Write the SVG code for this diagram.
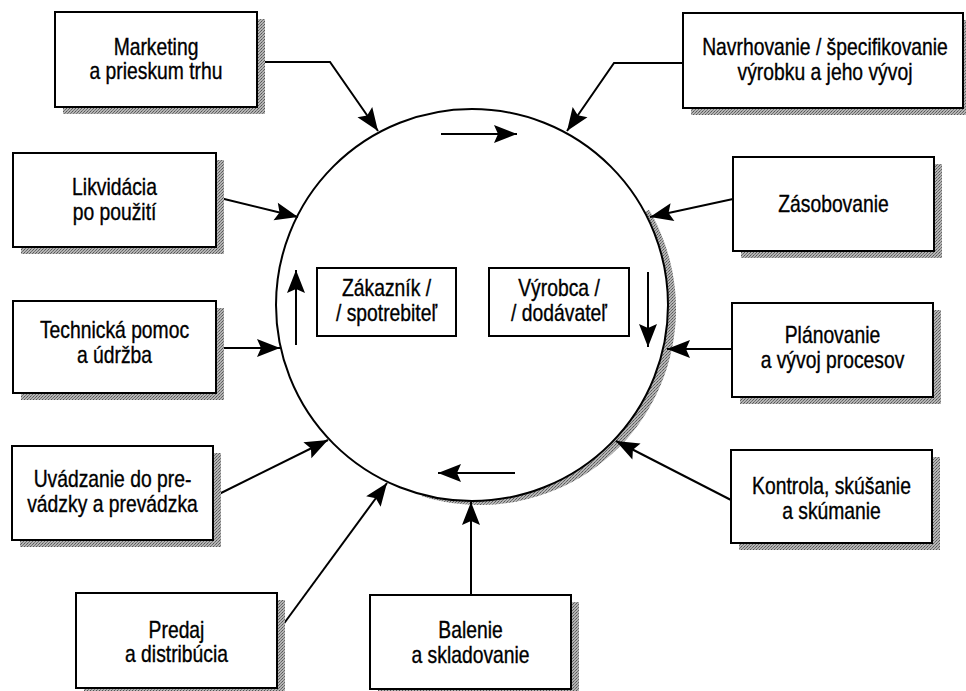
<svg xmlns="http://www.w3.org/2000/svg" width="966" height="691" viewBox="0 0 966 691">
<defs>
<pattern id="dither" width="3" height="3" patternUnits="userSpaceOnUse">
<rect width="3" height="3" fill="#b4b4b4"/>
<rect x="0" y="0" width="1" height="1" fill="#555"/>
<rect x="2" y="1" width="1" height="1" fill="#666"/>
<rect x="1" y="2" width="1" height="1" fill="#777"/>
</pattern>
<marker id="ah" markerUnits="userSpaceOnUse" markerWidth="26" markerHeight="20" refX="23" refY="9" orient="auto" overflow="visible">
<path d="M0,0 L23,9 L0,18 L4,9 Z" fill="#000"/>
</marker>
<clipPath id="shclip">
<polygon points="472,305 736,163 772,305 684,517 472,605 396,595"/>
</clipPath>
</defs>
<style>
.box{fill:#fff;stroke:#000;stroke-width:2}
.sh{fill:url(#dither)}
.t{font-family:"Liberation Sans",Arial,Helvetica,sans-serif;font-size:23px;fill:#000;stroke:#000;stroke-width:0.35;text-anchor:middle}
.c{fill:none;stroke:#000;stroke-width:2;marker-end:url(#ah)}
</style>
<rect width="966" height="691" fill="#fff"/>

<g id="circle">
<circle cx="480" cy="309" r="196" class="sh" clip-path="url(#shclip)"/>
<circle cx="472" cy="305" r="196" fill="#fff" stroke="#000" stroke-width="2"/>
</g>

<g id="cycle-arrows">
<line class="c" x1="441" y1="134" x2="517" y2="134"/>
<line class="c" x1="648" y1="272" x2="648" y2="347"/>
<line class="c" x1="515" y1="473" x2="438" y2="473"/>
<line class="c" x1="296" y1="345" x2="296" y2="270"/>
</g>

<g id="connectors">
<polyline class="c" points="257,62 330,62 378,131"/>
<polyline class="c" points="683,63 614,63 567,131"/>
<line class="c" x1="216" y1="197" x2="298" y2="217"/>
<line class="c" x1="216" y1="348" x2="280" y2="348"/>
<line class="c" x1="213" y1="497" x2="328" y2="440"/>
<line class="c" x1="277" y1="633" x2="387" y2="483"/>
<line class="c" x1="471" y1="595" x2="471" y2="502"/>
<line class="c" x1="731" y1="500" x2="616" y2="441"/>
<line class="c" x1="732" y1="349" x2="667" y2="349"/>
<line class="c" x1="733" y1="199" x2="650" y2="217"/>
</g>

<g id="zakaznik">
<rect class="box" x="317" y="268" width="139" height="68"/>
<text class="t" transform="translate(386.5 296) scale(0.84 1)">Zákazník /</text>
<text class="t" transform="translate(386.5 321) scale(0.84 1)">/ spotrebiteľ</text>
</g>

<g id="vyrobca">
<rect class="box" x="489" y="268" width="140" height="68"/>
<text class="t" transform="translate(559 296) scale(0.84 1)">Výrobca /</text>
<text class="t" transform="translate(559 321) scale(0.84 1)">/ dodávateľ</text>
</g>

<g id="marketing">
<rect class="sh" x="63" y="19" width="202" height="95"/>
<rect class="box" x="55" y="12" width="202" height="95"/>
<text class="t" transform="translate(156 55) scale(0.84 1)">Marketing</text>
<text class="t" transform="translate(156 79) scale(0.84 1)">a prieskum trhu</text>
</g>

<g id="navrhovanie">
<rect class="sh" x="691" y="20" width="280" height="95"/>
<rect class="box" x="683" y="13" width="280" height="95"/>
<text class="t" transform="translate(825 55) scale(0.84 1)">Navrhovanie / špecifikovanie</text>
<text class="t" transform="translate(825 80) scale(0.84 1)">výrobku a jeho vývoj</text>
</g>

<g id="likvidacia">
<rect class="sh" x="21" y="160" width="203" height="94"/>
<rect class="box" x="13" y="153" width="203" height="94"/>
<text class="t" transform="translate(114.5 195) scale(0.84 1)">Likvidácia</text>
<text class="t" transform="translate(114.5 220) scale(0.84 1)">po použití</text>
</g>

<g id="technicka">
<rect class="sh" x="21" y="308" width="203" height="92"/>
<rect class="box" x="13" y="301" width="203" height="92"/>
<text class="t" transform="translate(114.5 338) scale(0.84 1)">Technická pomoc</text>
<text class="t" transform="translate(114.5 363) scale(0.84 1)">a údržba</text>
</g>

<g id="uvadzanie">
<rect class="sh" x="20" y="453" width="201" height="94"/>
<rect class="box" x="12" y="446" width="201" height="94"/>
<text class="t" transform="translate(112.5 487) scale(0.84 1)">Uvádzanie do pre-</text>
<text class="t" transform="translate(112.5 512) scale(0.84 1)">vádzky a prevádzka</text>
</g>

<g id="predaj">
<rect class="sh" x="84" y="600" width="201" height="95"/>
<rect class="box" x="76" y="593" width="201" height="95"/>
<text class="t" transform="translate(176.5 638) scale(0.84 1)">Predaj</text>
<text class="t" transform="translate(176.5 662) scale(0.84 1)">a distribúcia</text>
</g>

<g id="balenie">
<rect class="sh" x="378" y="602" width="201" height="94"/>
<rect class="box" x="370" y="595" width="201" height="94"/>
<text class="t" transform="translate(470.5 638) scale(0.84 1)">Balenie</text>
<text class="t" transform="translate(470.5 663) scale(0.84 1)">a skladovanie</text>
</g>

<g id="zasobovanie">
<rect class="sh" x="741" y="164" width="201" height="94"/>
<rect class="box" x="733" y="157" width="201" height="94"/>
<text class="t" transform="translate(833.5 212) scale(0.84 1)">Zásobovanie</text>
</g>

<g id="planovanie">
<rect class="sh" x="740" y="310" width="201" height="94"/>
<rect class="box" x="732" y="303" width="201" height="94"/>
<text class="t" transform="translate(832.5 343) scale(0.84 1)">Plánovanie</text>
<text class="t" transform="translate(832.5 368) scale(0.84 1)">a vývoj procesov</text>
</g>

<g id="kontrola">
<rect class="sh" x="739" y="457" width="201" height="93"/>
<rect class="box" x="731" y="450" width="201" height="93"/>
<text class="t" transform="translate(831.5 494) scale(0.84 1)">Kontrola, skúšanie</text>
<text class="t" transform="translate(831.5 519) scale(0.84 1)">a skúmanie</text>
</g>
</svg>
